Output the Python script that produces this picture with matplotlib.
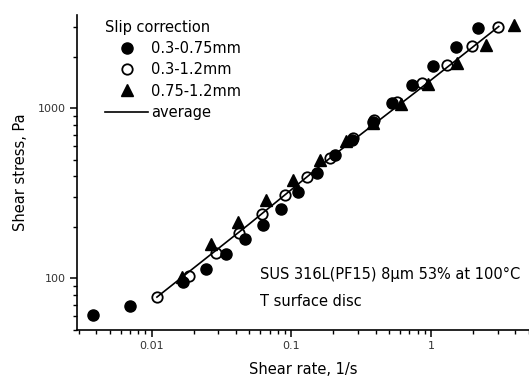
import numpy as np
import matplotlib.pyplot as plt
from matplotlib.ticker import LogLocator, FixedLocator, FixedFormatter, NullFormatter

# slip correction 0.3-0.75mm (filled circles)
rate_a = [0.0038, 0.0070, 0.0168, 0.0245, 0.034, 0.0466, 0.0627, 0.0843, 0.1115,
          0.152, 0.205, 0.272, 0.384, 0.525, 0.73, 1.03, 1.51, 2.17]
stress_a = [60.8, 68.7, 95, 113.5, 139, 170, 206, 256, 322,
            416, 531, 651, 830, 1075, 1371, 1774, 2296, 2966]

# slip correction 0.3-1.2mm (open circles)
rate_b = [0.0109, 0.0185, 0.0288, 0.0422, 0.0617, 0.0902, 0.129, 0.189, 0.276,
          0.39, 0.57, 0.861, 1.30, 1.96, 3.01]
stress_b = [77.6, 103, 141, 185, 239, 309, 394, 510, 669,
            853, 1089, 1409, 1799, 2323, 3006]

# slip correction 0.75-1.2mm (triangles)
rate_c = [0.01645, 0.0267, 0.0416, 0.0658, 0.1026, 0.160, 0.246, 0.384, 0.608,
          0.948, 1.53, 2.47, 3.93]
stress_c = [102, 159, 214, 289, 379, 496, 642, 820, 1060,
            1390, 1846, 2355, 3090]

# average line
rate_avg = [0.0109, 0.05, 0.189, 0.8, 3.05]
stress_avg = [77.6, 209, 510, 1271, 3030]

plt.rcParams['font.family'] = 'DejaVu Sans'

fig = plt.figure(figsize=(5.29, 3.83), dpi=100)
ax = fig.add_axes([77 / 529, 53 / 383, 452 / 529, 315 / 383])

ax.plot(rate_avg, stress_avg, color='black', linewidth=1.2, label='average', zorder=2)
ax.plot(rate_a, stress_a, 'o', color='black', markersize=8, linestyle='none',
        label='0.3-0.75mm', zorder=3)
ax.plot(rate_b, stress_b, 'o', markerfacecolor='none', markeredgecolor='black',
        markeredgewidth=1.3, markersize=7.5, linestyle='none', label='0.3-1.2mm', zorder=3)
ax.plot(rate_c, stress_c, '^', color='black', markersize=8, linestyle='none',
        label='0.75-1.2mm', zorder=3)

ax.set_xscale('log')
ax.set_yscale('log')
ax.set_xlim(0.00292, 5.02)
ax.set_ylim(49.7, 3540)

ax.spines['top'].set_visible(False)
ax.spines['right'].set_visible(False)
for s in ('left', 'bottom'):
    ax.spines[s].set_linewidth(1.2)

ax.xaxis.set_major_locator(FixedLocator([0.01, 0.1, 1]))
ax.xaxis.set_major_formatter(FixedFormatter(['0.01', '0.1', '1']))
ax.xaxis.set_minor_locator(LogLocator(base=10, subs=np.arange(2, 10), numticks=20))
ax.xaxis.set_minor_formatter(NullFormatter())
ax.yaxis.set_major_locator(FixedLocator([100, 1000]))
ax.yaxis.set_major_formatter(FixedFormatter(['100', '1000']))
ax.yaxis.set_minor_locator(LogLocator(base=10, subs=np.arange(2, 10), numticks=20))
ax.yaxis.set_minor_formatter(NullFormatter())

ax.tick_params(which='major', direction='out', length=5, width=1.1,
               labelsize=8, labelcolor='#333333', pad=3)
ax.tick_params(which='minor', direction='out', length=3, width=1.0)

ax.set_xlabel('Shear rate, 1/s', fontsize=10.5, labelpad=8)
ax.set_ylabel('Shear stress, Pa', fontsize=10.5, labelpad=7)

ax.legend(handles=[ax.lines[1], ax.lines[2], ax.lines[3], ax.lines[0]],
          title='Slip correction', loc='upper left', frameon=False,
          bbox_to_anchor=(0.05, 1.002), fontsize=10.5, title_fontsize=10.5,
          handlelength=2.9, handletextpad=0.2, labelspacing=0.42,
          borderaxespad=0.0, alignment='left')

fig.text(260 / 529, 1 - 274 / 383, "SUS 316L(PF15) 8μm 53% at 100°C", fontsize=10.5,
         va='center', ha='left')
fig.text(260 / 529, 1 - 301 / 383, "T surface disc", fontsize=10.5,
         va='center', ha='left')

fig.savefig('out.png', dpi=100)
